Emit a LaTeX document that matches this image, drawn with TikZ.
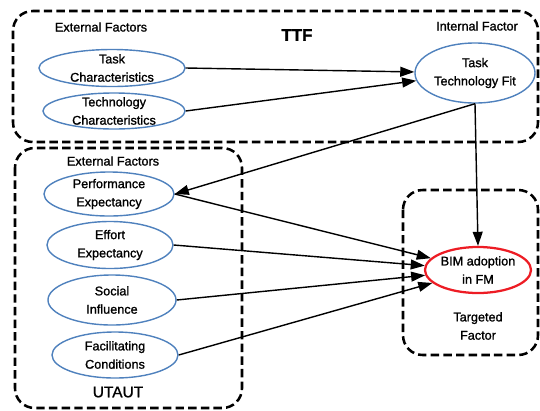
\documentclass[tikz,border=0pt]{standalone}
\usepackage{fontspec}
\setmainfont{Liberation Sans}[FakeBold=1.2]
\usetikzlibrary{shapes.geometric,arrows.meta}
\definecolor{ovalblue}{RGB}{79,129,189}
\definecolor{ovalred}{RGB}{237,28,36}

\begin{document}
\begin{tikzpicture}[x=0.025cm, y=-0.025cm, line width=1pt,
  factor/.style={ellipse, draw=ovalblue, line width=1pt, inner xsep=0pt,
    inner ysep=-3pt, align=center, font=\fontsize{9}{13}\selectfont},
  group/.style={draw, line width=1.8pt, dash pattern=on 6pt off 3pt,
    rounded corners=14pt},
  caption/.style={font=\fontsize{9}{13}\selectfont, align=center},
  link/.style={-{Triangle[length=10pt,width=7pt]}, line width=1pt}]
  \useasboundingbox (0,0) rectangle (540,410);
  % dashed groups
  \draw[group] (13,11) rectangle (538,142);
  \draw[group] (15,148) rectangle (242,408);
  \draw[group] (403,190) rectangle (538,355);
  % group captions
  \node[caption] (extttf) at (101,27) {External Factors};
  \node[caption] (intttf) at (477,26) {Internal Factor};
  \node[font=\fontsize{12}{14}\selectfont\bfseries] (ttf) at (297,35) {TTF};
  \node[caption] (extutaut) at (113,161) {External Factors};
  \node[font=\fontsize{11}{13}\selectfont] (utaut) at (118,392) {UTAUT};
  \node[caption] (target) at (478,326) {Targeted\\Factor};
  % factors
  \node[factor, minimum width=3.65cm, minimum height=0.925cm] (task) at (112,68) {Task\\Characteristics};
  \node[factor, minimum width=3.55cm, minimum height=0.9cm] (tech) at (114,111) {Technology\\Characteristics};
  \node[factor, minimum width=3.0cm, minimum height=1.5cm] (ttfit) at (475,73) {Task\\Technology Fit};
  \node[factor, minimum width=3.25cm, minimum height=1.1cm] (perf) at (109,194) {Performance\\Expectancy};
  \node[factor, minimum width=3.15cm, minimum height=1.175cm] (effort) at (110,245) {Effort\\Expectancy};
  \node[factor, minimum width=3.2cm, minimum height=1.25cm] (social) at (112,300) {Social\\Influence};
  \node[factor, minimum width=3.15cm, minimum height=1.15cm] (facil) at (115,355) {Facilitating\\Conditions};
  \node[factor, draw=ovalred, line width=1.6pt, minimum width=2.65cm, minimum height=1.15cm] (bim) at (478,270) {BIM adoption\\in FM};
  % links
  \draw[link] (task.east) -- (ttfit);
  \draw[link] (tech.east) -- (ttfit);
  \draw[link] (ttfit.south) -- (perf.east);
  \draw[link] (ttfit.south) -- (bim.north);
  \draw[link] (perf.east) -- (bim);
  \draw[link] (effort.east) -- (bim);
  \draw[link] (social.east) -- (bim);
  \draw[link] (facil.east) -- (bim);
\end{tikzpicture}
\end{document}
